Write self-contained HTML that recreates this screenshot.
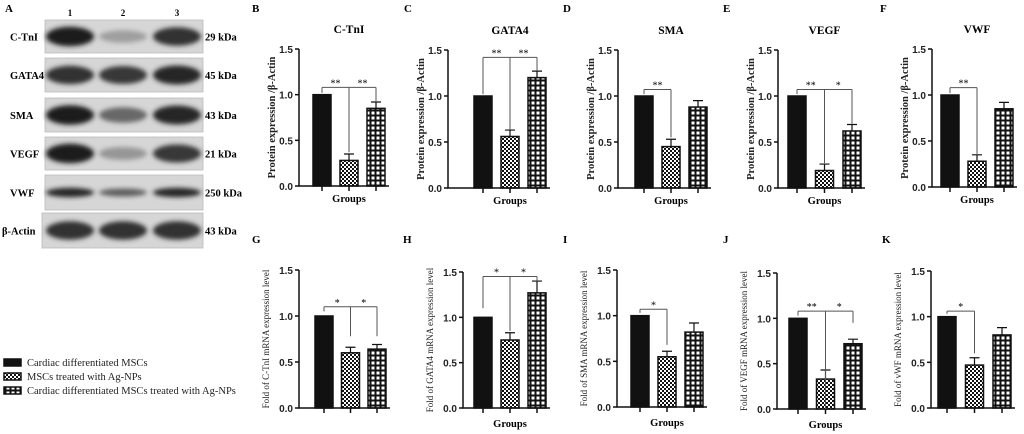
<!DOCTYPE html>
<html><head><meta charset="utf-8">
<style>
html,body{margin:0;padding:0;background:#fff;}
#root{position:relative;width:1024px;height:434px;overflow:hidden;background:#fff;font-family:"Liberation Serif",serif;}
svg{position:absolute;left:0;top:0;}
</style></head>
<body>
<div id="root">
<svg id="fig" width="1024" height="434" viewBox="0 0 1024 434" xmlns="http://www.w3.org/2000/svg">
<defs>
<pattern id="checker" width="4" height="4" patternUnits="userSpaceOnUse">
<rect width="4" height="4" fill="#fff"/><rect width="2" height="2" fill="#111"/><rect x="2" y="2" width="2" height="2" fill="#111"/>
</pattern>
<pattern id="grid" width="5" height="5" patternUnits="userSpaceOnUse">
<rect width="5" height="5" fill="#111"/><rect x="1.5" y="1.5" width="3" height="3" fill="#fff"/>
</pattern>
<filter id="blur" x="-50%" y="-50%" width="200%" height="200%"><feGaussianBlur stdDeviation="2.5"/></filter>
</defs>
</svg>
</div>
<script>
// ---- Chart data ----
const panelLetters = ["B","C","D","E","F","G","H","I","J","K"];
const panelTitles = ["C-TnI","GATA4","SMA","VEGF","VWF","","","","",""];
const yAxisTitles = ["Protein expression /β-Actin","Protein expression /β-Actin","Protein expression /β-Actin","Protein expression /β-Actin","Protein expression /β-Actin",
  "Fold of C-TnI mRNA expression level","Fold of GATA4 mRNA expression level","Fold of SMA mRNA expression level","Fold of VEGF mRNA expression level","Fold of vWF mRNA expression level"];
const showGroups = [true,true,true,true,true,false,true,true,true,false];
const groupNames = ["Cardiac differentiated MSCs","MSCs treated with Ag-NPs","Cardiac differentiated MSCs treated with Ag-NPs"];
const yTicks = [0.0,0.5,1.0,1.5];
const yTickLabels = ["0.0","0.5","1.0","1.5"];
const meanValues = [
  [1.0,0.28,0.85],[1.0,0.56,1.20],[1.0,0.45,0.88],[1.0,0.19,0.62],[1.0,0.28,0.85],
  [1.0,0.60,0.64],[1.0,0.75,1.27],[1.0,0.55,0.82],[1.0,0.33,0.72],[1.0,0.47,0.80]];
const errValues = [
  [0,0.07,0.07],[0,0.07,0.07],[0,0.08,0.07],[0,0.07,0.07],[0,0.07,0.07],
  [0,0.06,0.05],[0,0.08,0.13],[0,0.06,0.10],[0,0.10,0.05],[0,0.08,0.08]];
const bracketLevels = [1.08,1.42,1.07,1.07,1.08,1.10,1.45,1.07,1.08,1.06];
const bracketDrops = [
  [1.02,0.37,0.93],[1.02,0.63,1.27],[1.02,0.55],[1.02,0.27,0.70],[1.02,0.36],
  [1.05,0.78,0.78],[1.10,0.85,1.40],[1.03,0.68],[1.03,0.0,0.95],[1.03,0.60]];
const bracketStars = [["**","**"],["**","**"],["**"],["**","*"],["**"],["*","*"],["*","*"],["*"],["**","*"],["*"]];
// layout (not data)
const layout = [
  {ax:299,y0:186,y15:49,t0:322,st:27,lx:252,ly:12},
  {ax:448,y0:188,y15:50,t0:483,st:27,lx:404,ly:12},
  {ax:618,y0:188,y15:50,t0:644,st:27,lx:563,ly:12},
  {ax:778,y0:188,y15:50,t0:797,st:27.5,lx:723,ly:12},
  {ax:932,y0:187,y15:49,t0:950,st:27,lx:880,ly:12},
  {ax:299,y0:408,y15:270,t0:324,st:26.5,lx:252,ly:243},
  {ax:463,y0:408,y15:272,t0:483,st:27,lx:403,ly:243},
  {ax:617,y0:407,y15:270,t0:640,st:27,lx:563,ly:243},
  {ax:777,y0:409,y15:273,t0:798,st:27.5,lx:723,ly:243},
  {ax:931,y0:408,y15:271,t0:947,st:27.5,lx:882,ly:243}];
const fills = ["#111","url(#checker)","url(#grid)"];

// western blot data
const blotProteins = ["C-TnI","GATA4","SMA","VEGF","VWF","β-Actin"];
const blotSizes = ["29 kDa","45 kDa","43 kDa","21 kDa","250 kDa","43 kDa"];
const bandIntensity = [[0.95,0.25,0.85],[0.85,0.8,0.9],[0.95,0.55,0.9],[0.95,0.3,0.8],[0.9,0.6,0.9],[0.85,0.85,0.85]];

const svg = document.getElementById('fig');
const NS = "http://www.w3.org/2000/svg";
function mk(tag, attrs, parent){
  const e = document.createElementNS(NS, tag);
  for (const k in attrs) e.setAttribute(k, attrs[k]);
  (parent||svg).appendChild(e);
  return e;
}
function txt(str, attrs, parent){ const t = mk('text', attrs, parent); t.textContent = str; return t; }

// ---- Panel A: western blot ----
const gA = mk('g',{});


const la = txt("A",{x:5,y:12,'font-size':11,'font-weight':'bold'},gA);


const laneX = [70,123,177];
["1","2","3"].forEach((n,i)=>{
  const t = txt(n,{x:laneX[i],y:16,'font-size':9,'font-weight':'bold','text-anchor':'middle'},gA);
  
  
});
const boxY = [20,58,98,137,175,213];
const boxH = [33,34,34,33,35,35];
blotProteins.forEach((p,r)=>{
  const g = mk('g',{},gA);
  
  
  const bx = r===5?42:45;
  const rect = mk('rect',{x:bx,y:boxY[r],width:203-bx,height:boxH[r],fill:'#d6d6d6',stroke:'#bbb','stroke-width':0.8},g);
  
  
  const cy = boxY[r]+boxH[r]/2;
  bandIntensity[r].forEach((v,i)=>{
    const gray = Math.round(205 - v*185);
    const ry = r===4 ? 2.5+v*2.5 : 5+v*5;
    const e = mk('ellipse',{cx:laneX[i],cy:cy,rx:24,ry:ry,fill:`rgb(${gray},${gray},${gray})`,filter:'url(#blur)'},g);
    
    
  });
  const l = txt(p,{x:r===5?2:10,y:cy+4,'font-size':10.5,'font-weight':'bold'},g);
  
  
  const s = txt(blotSizes[r],{x:205,y:cy+4,'font-size':10.5,'font-weight':'bold'},g);
  
  
});

// ---- Legend ----
const gL = mk('g',{});


groupNames.forEach((n,i)=>{
  const y = 362 + i*14;
  const g = mk('g',{},gL);
  
  
  mk('rect',{x:4,y:y-3,width:17,height:7,fill:fills[i],stroke:'#111','stroke-width':1.5},g);
  txt(n,{x:27,y:y+4,'font-size':10.5,fill:'#222'},g);
});

// ---- Bar panels ----
layout.forEach((L,p)=>{
  const g = mk('g',{});
  
  
  const ys = v => L.y0 - v*(L.y0-L.y15)/1.5;
  const xs = i => L.t0 + i*L.st;
  const top = p<5;
  const lt = txt(panelLetters[p],{x:L.lx,y:L.ly,'font-size':11,'font-weight':'bold'},g);
  
  
  if (panelTitles[p]) {
    const t = txt(panelTitles[p],{x:xs(1),y:L.y15-16,'font-size':11.5,'font-weight':'bold','text-anchor':'middle'},g);
    
    
  }
  const yc = (L.y0+L.y15)/2;
  const ytx = top ? L.ax-24 : L.ax-30;
  const yt = txt(yAxisTitles[p],{x:0,y:0,'font-size':top?10.5:9,'font-weight':top?'bold':'normal','text-anchor':'middle',fill:'#222',transform:`translate(${ytx},${yc}) rotate(-90)`},g);
  
  
  meanValues[p].forEach((v,i)=>{
    const w = 18;
    const b = mk('rect',{x:xs(i)-w/2,y:ys(v),width:w,height:ys(0)-ys(v),fill:fills[i],stroke:'#111','stroke-width':1.5},g);
    
    
    const e = errValues[p][i];
    if (e>0){
      const eb = mk('path',{d:`M${xs(i)},${ys(v)} V${ys(v+e)} M${xs(i)-5},${ys(v+e)} H${xs(i)+5}`,stroke:'#111','stroke-width':1.2,fill:'none'},g);
      
      
    }
  });
  const xEnd = xs(2)+13;
  const ax = mk('path',{d:`M${L.ax},${L.y15} V${L.y0} H${xEnd}`,stroke:'#111','stroke-width':1.5,fill:'none'},g);
  
  
  yTicks.forEach((v,k)=>{
    mk('line',{x1:L.ax-4,x2:L.ax,y1:ys(v),y2:ys(v),stroke:'#111','stroke-width':1.5},g);
    const tl = txt(yTickLabels[k],{x:L.ax-6,y:ys(v)+4,'font-size':10,'font-weight':'bold','text-anchor':'end','font-family':'"Liberation Sans",sans-serif',fill:'#222'},g);
    
    
  });
  [0,1,2].forEach(i=>mk('line',{x1:xs(i),x2:xs(i),y1:L.y0,y2:L.y0+5,stroke:'#111','stroke-width':1.5},g));
  if (showGroups[p]) {
    const gt = txt("Groups",{x:xs(1),y:L.y0+(top?16:19),'font-size':10.5,'font-weight':'bold','text-anchor':'middle'},g);
    
    
  }
  const drops = bracketDrops[p];
  const by = ys(bracketLevels[p]);
  let d = `M${xs(0)},${by} H${xs(drops.length-1)}`;
  drops.forEach((dv,i)=>{ d += ` M${xs(i)},${by} V${ys(dv)}`; });
  const br = mk('path',{d:d,stroke:'#555','stroke-width':1,fill:'none'},g);
  
  
  bracketStars[p].forEach((s,i)=>{
    const st = txt(s,{x:(xs(i)+xs(i+1))/2,y:by-1,'font-size':10,'text-anchor':'middle'},g);
    
    
  });
});
</script>
</body></html>
